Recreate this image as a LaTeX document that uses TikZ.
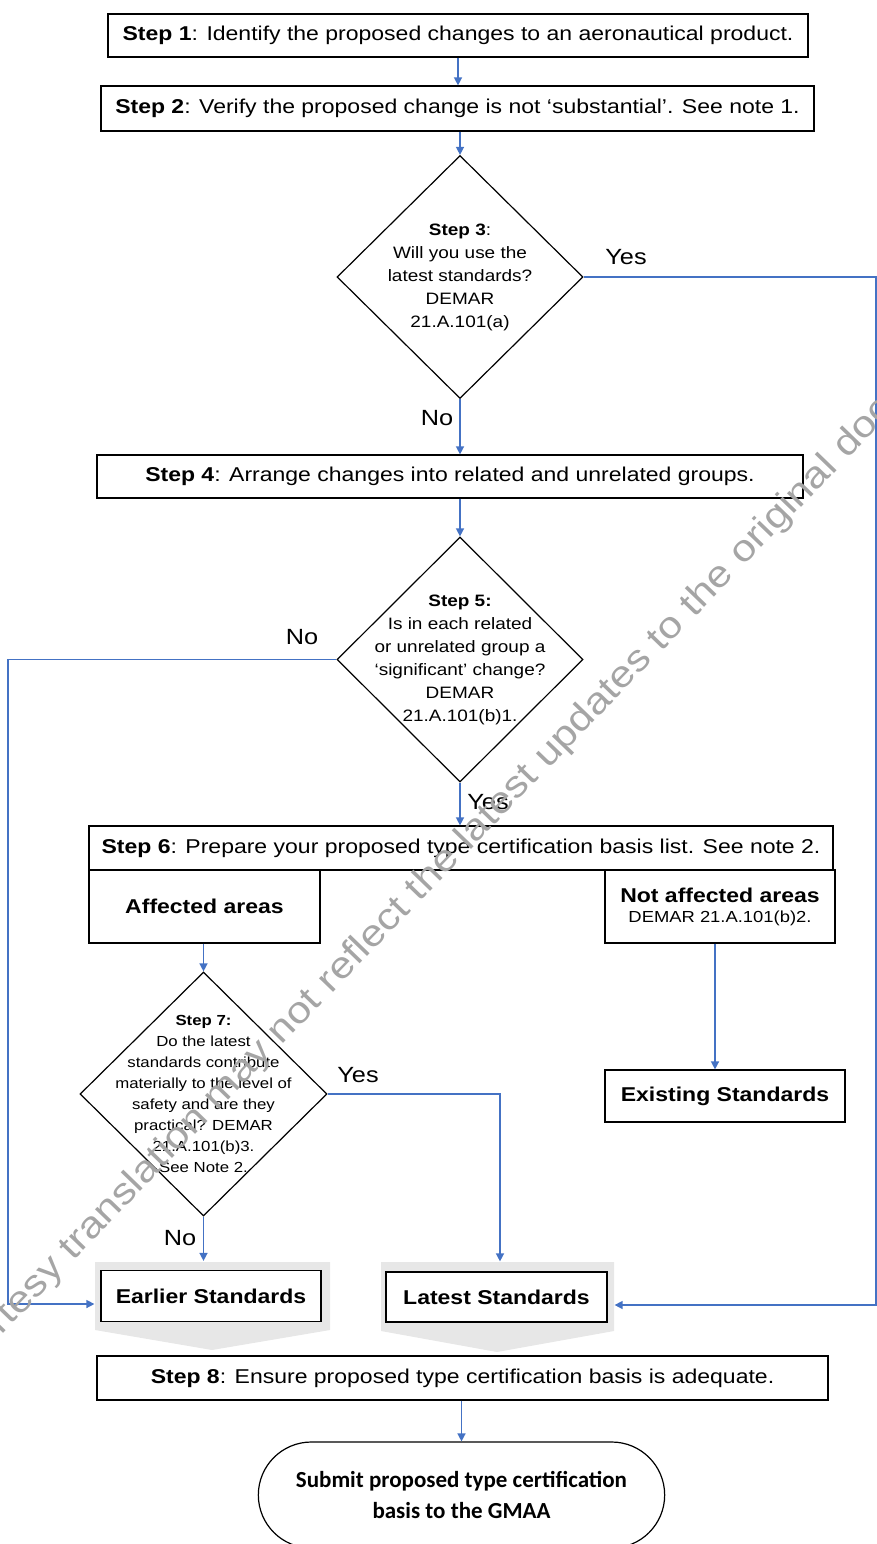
\documentclass[tikz,border=0pt]{standalone}
\usepackage{fontspec}
\setmainfont{Liberation Sans}[FakeStretch=1.15]
\newfontfamily\calibri{Carlito}
\usepackage{tikz}
\usetikzlibrary{arrows.meta,shapes.geometric,shapes.misc}
\definecolor{flowblue}{RGB}{68,114,196}
\definecolor{chevgray}{RGB}{231,231,231}
\definecolor{markgray}{RGB}{165,165,165}
\newcommand{\boxline}{1.2pt}
\newcommand{\stepfont}{\fontsize{20}{22}\selectfont}
\newcommand{\qfont}{\fontsize{16.5}{23}\selectfont}
\newcommand{\qsmall}{\fontsize{14.6}{21}\selectfont}

\begin{document}
\begin{tikzpicture}[x=1pt,y=-1pt]
    \tikzset{
        stepbox/.style={draw, fill=white, line width=\boxline, inner sep=0pt, font=\stepfont},
        decision/.style={draw, diamond, line width=\boxline, inner sep=0pt, minimum width=246pt, minimum height=243pt},
        qtext/.style={align=center, inner sep=0pt, font=\qfont},
        flow/.style={draw=flowblue, line width=1.4pt, -{Triangle[width=8pt,length=8pt]}},
        answer/.style={inner sep=0pt, font=\fontsize{22}{24}\selectfont},
        watermark/.style={text=markgray, rotate=46, inner sep=0pt, font=\fontsize{37}{37}\selectfont}
    }
    \useasboundingbox (0,0) rectangle (877,1544);
    % top of the chart
    \node[stepbox, minimum width=700pt, minimum height=43pt] (s1) at (458,35.5) {\textbf{Step 1}: Identify the proposed changes to an aeronautical product.};
    \node[stepbox, minimum width=713pt, minimum height=45pt] (s2) at (457.5,108.5) {\textbf{Step 2}: Verify the proposed change is not `substantial'. See note 1.};
    \node[decision] (d3) at (460,277) {};
    \node[qtext] (t3) at (d3) {\textbf{Step 3}:\\Will you use the\\latest standards?\\DEMAR\\21.A.101(a)};
    \node[stepbox, minimum width=706pt, minimum height=43pt] (s4) at (450,476.5) {\textbf{Step 4}: Arrange changes into related and unrelated groups.};
    \node[decision, minimum height=245pt] (d5) at (460,659.5) {};
    \node[qtext] (t5) at (d5) {\textbf{Step 5:}\\Is in each related\\or unrelated group a\\`significant' change?\\DEMAR\\21.A.101(b)1.};
    \node[stepbox, minimum width=744pt, minimum height=44pt] (s6) at (461,848) {\textbf{Step 6}: Prepare your proposed type certification basis list. See note 2.};
    \node[stepbox, minimum width=231pt, minimum height=73pt, font=\fontsize{20}{24}\selectfont\bfseries] (aff) at (204.5,906.5) {Affected areas};
    \node[stepbox, minimum width=230pt, minimum height=73pt, align=center] (naff) at (720,906.5) {{\fontsize{20}{24}\selectfont\bfseries Not affected areas}\\[-2pt]{\fontsize{16}{18}\selectfont DEMAR 21.A.101(b)2.}};
    \node[decision, minimum width=247pt, minimum height=244pt] (d7) at (203.5,1094) {};
    \node[qtext, font=\qsmall] (t7) at (d7) {\textbf{Step 7:}\\Do the latest\\standards contribute\\materially to the level of\\safety and are they\\practical? DEMAR\\21.A.101(b)3.\\See Note 2.};
    \node[stepbox, minimum width=240pt, minimum height=52pt, font=\stepfont\bfseries] (exist) at (725,1096) {Existing Standards};
    % grey chevrons behind the standards
    \fill[chevgray] (95,1262) -- (330,1262) -- (330,1330) -- (212,1350) -- (95,1330) -- cycle;
    \fill[chevgray] (381,1262) -- (614,1262) -- (614,1331) -- (497,1352) -- (381,1331) -- cycle;
    \node[stepbox, minimum width=220pt, minimum height=51pt, font=\stepfont\bfseries] (early) at (211,1296) {Earlier Standards};
    \node[stepbox, minimum width=221pt, minimum height=50pt, font=\stepfont\bfseries] (late) at (496.5,1297) {Latest Standards};
    \node[stepbox, minimum width=731pt, minimum height=44pt] (s8) at (462.5,1378) {\textbf{Step 8}: Ensure proposed type certification basis is adequate.};
    \node[draw, rounded rectangle, line width=\boxline, minimum width=413pt, minimum height=106pt, align=center, font=\calibri\fontsize{23}{31}\selectfont\bfseries] (term) at (461.5,1495) {Submit proposed type certification\\basis to the GMAA};
    % connectors
    \coordinate (lrail) at (8,1304);
    \coordinate (rrail) at (876,1305);
    \draw[flow] (s1.south) -- (s1.south |- s2.north);
    \draw[flow] (d3.north |- s2.south) -- (d3.north);
    \draw[flow] (d3.south) -- (d3.south |- s4.north);
    \draw[flow] (d5.north |- s4.south) -- (d5.north);
    \draw[flow] (d5.south) -- (d5.south |- s6.north);
    \draw[flow] (d7.north |- aff.south) -- (d7.north);
    \draw[flow] ([xshift=-5pt]naff.south) -- ([xshift=-5pt]naff.south |- exist.north);
    \draw[flow, shorten >=9pt] (d7.south) -- (d7.south |- early.north);
    \draw[flow, shorten >=10pt] (d7.east) -| ([xshift=3.5pt]late.north);
    \draw[flow, shorten >=6pt] (d5.west) -| (lrail) -- (early.west |- lrail);
    \draw[flow, shorten >=7pt] (d3.east) -| (rrail) -- (late.east |- rrail);
    \draw[flow] (term.north |- s8.south) -- (term.north);
    % answers
    \node[answer] (y3) at (626,257) {Yes};
    \node[answer] (n3) at (437,418) {No};
    \node[answer] (n5) at (302,637) {No};
    \node[answer] (y5) at (488,802) {Yes};
    \node[answer] (y7) at (358,1075) {Yes};
    \node[answer] (n7) at (180,1238) {No};
    \node[watermark] (mark) at (455,852) {Courtesy translation may not reflect the latest updates to the original document};
\end{tikzpicture}
\end{document}
